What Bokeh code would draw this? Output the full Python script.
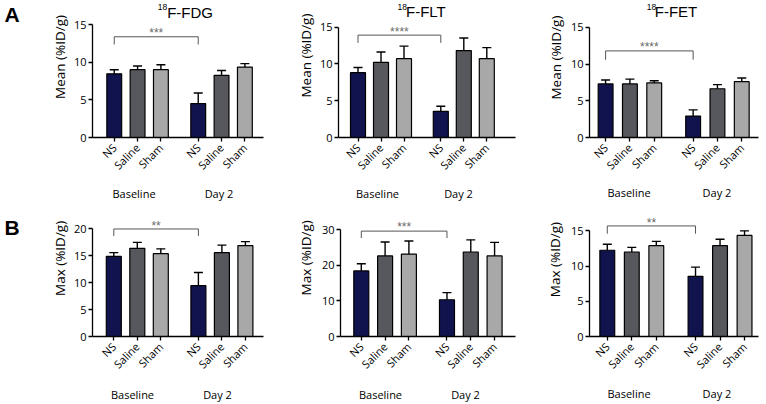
from math import pi
from bokeh.plotting import figure
from bokeh.layouts import row, column
from bokeh.models import FixedTicker, Label, Whisker, TeeHead, ColumnDataSource, Range1d, LinearAxis
from bokeh.embed import file_html
from bokeh.resources import INLINE

# ---------------- data ----------------
bar_labels = ["NS", "Saline", "Sham", "NS", "Saline", "Sham"]
bar_x = [0, 1, 2, 3.6, 4.6, 5.6]
period_labels = ["Baseline", "Day 2"]
bar_colors = ["#11134f", "#57585e", "#a8a8a8", "#11134f", "#57585e", "#a8a8a8"]

fdg_mean = [8.45, 9.0, 9.0, 4.5, 8.25, 9.35]
fdg_mean_sem = [0.55, 0.5, 0.65, 1.4, 0.65, 0.45]
flt_mean = [8.8, 10.2, 10.7, 3.55, 11.8, 10.7]
flt_mean_sem = [0.7, 1.4, 1.7, 0.7, 1.7, 1.5]
fet_mean = [7.3, 7.3, 7.43, 2.92, 6.64, 7.6]
fet_mean_sem = [0.53, 0.66, 0.31, 0.84, 0.56, 0.5]

fdg_max = [14.9, 16.4, 15.4, 9.45, 15.6, 16.9]
fdg_max_sem = [0.7, 1.1, 0.9, 2.45, 1.4, 0.75]
flt_max = [18.4, 22.6, 23.1, 10.3, 23.7, 22.6]
flt_max_sem = [2.0, 3.9, 3.7, 2.0, 3.4, 3.8]
fet_max = [12.25, 12.0, 12.9, 8.55, 12.9, 14.35]
fet_max_sem = [0.85, 0.65, 0.6, 1.3, 0.9, 0.65]

y_ticks_mean = [0, 5, 10, 15]
y_ticks_fdg_max = [0, 5, 10, 15, 20]
y_ticks_flt_max = [0, 10, 20, 30]
y_ticks_fet_max = [0, 5, 10, 15]

# significance brackets (NS baseline vs NS day 2)
sig_stars = ["***", "****", "****", "**", "***", "**"]
sig_bracket_y = [13.37, 13.9, 11.8, 20.0, 29.55, 15.7]
sig_tick_y = [12.35, 12.85, 10.6, 18.7, 27.6, 14.6]
sig_star_y = [13.84, 14.37, 12.35, 20.58, 30.6, 16.14]

tracer_mass = "18"
tracer_names = ["F-FDG", "F-FLT", "F-FET", None, None, None]
panel_letters = ["A", "B"]
y_titles = ["Mean (%ID/g)", "Max (%ID/g)"]

FONT = "Open Sans"
TFONT = "Liberation Sans"

# ---------------- layout (screen px in the 766x404 page) ----------------
panels = [
    dict(vals=fdg_mean, sem=fdg_mean_sem, ticks=y_ticks_mean,
         fl=70, w=194, ft=0, h=204, L=90, R=263, T=0, B=137, ytop_s=24.0,
         c0=112.0, s=23.6, grp_x=[132, 218], grp_so=5, title_x=(156, 165.5)),
    dict(vals=flt_mean, sem=flt_mean_sem, ticks=y_ticks_mean,
         fl=316, w=200, ft=0, h=204, L=338, R=515, T=0, B=138, ytop_s=26.7,
         c0=357.5, s=23.0, grp_x=[377, 458], grp_so=5, title_x=(397, 405.5)),
    dict(vals=fet_mean, sem=fet_mean_sem, ticks=y_ticks_mean,
         fl=567, w=199, ft=0, h=204, L=587, R=758, T=0, B=141, ytop_s=27.7,
         c0=603.3, s=24.6, grp_x=[627, 716], grp_so=4, title_x=(645, 653)),
    dict(vals=fdg_max, sem=fdg_max_sem, ticks=y_ticks_fdg_max,
         fl=70, w=194, ft=204, h=200, L=92, R=263, T=214, B=343, ytop_s=229.3,
         c0=113.3, s=23.5, grp_x=[132, 217], grp_so=7, title_x=None),
    dict(vals=flt_max, sem=flt_max_sem, ticks=y_ticks_flt_max,
         fl=316, w=200, ft=204, h=200, L=340, R=515, T=214, B=344, ytop_s=230.0,
         c0=360.8, s=23.8, grp_x=[380, 465], grp_so=7, title_x=None),
    dict(vals=fet_max, sem=fet_max_sem, ticks=y_ticks_fet_max,
         fl=567, w=199, ft=204, h=200, L=587, R=758, T=212, B=344, ytop_s=229.7,
         c0=605.0, s=24.8, grp_x=[627, 716], grp_so=6, title_x=None),
]


def strip(left, top, w, h, items):
    """Blank figure whose frame fills it, used to hold free text at page px positions."""
    f = figure(width=w, height=h, x_range=Range1d(0, w), y_range=Range1d(0, h),
               x_axis_type=None, y_axis_type=None, output_backend="svg", toolbar_location=None,
               title=None, min_border=0, min_border_left=0, min_border_right=0,
               min_border_top=0, min_border_bottom=0)
    f.outline_line_color = None
    f.background_fill_color = "white"
    f.border_fill_color = "white"
    for text, sx, sy, kw in items:
        f.add_layout(Label(x=sx - left, y=h - (sy - top), text=text, **kw))
    return f


ylab_kw = dict(angle=pi / 2, text_align="center", text_baseline="middle", text_font=FONT,
               text_font_size="13.5px", text_color="black")
letter_kw = dict(text_align="left", text_baseline="middle", text_font=TFONT,
                 text_font_style="bold", text_font_size="21px", text_color="black")
mass_kw = dict(text_align="left", text_baseline="middle", text_font=TFONT,
               text_font_size="8.5px", text_color="black")
name_kw = dict(text_align="left", text_baseline="middle", text_font=TFONT,
               text_font_size="15px", text_color="black")

figs = []
for i, sp in enumerate(panels):
    top_val = sp["ticks"][-1]
    ppu = (sp["B"] - sp["ytop_s"]) / top_val
    y_end = (sp["B"] - sp["T"]) / ppu
    x0 = (sp["L"] - sp["c0"]) / sp["s"]
    x1 = (sp["R"] - sp["c0"]) / sp["s"]

    def dx(px, sp=sp):
        return round((px - sp["c0"]) / sp["s"], 4)

    def dy(py, sp=sp, ppu=ppu):
        return (sp["B"] - py) / ppu

    p = figure(width=sp["w"], height=sp["h"], x_range=Range1d(x0, x1), y_range=Range1d(0, y_end),
               output_backend="svg", toolbar_location=None, title=None,
               min_border_left=sp["L"] - sp["fl"], min_border_right=sp["fl"] + sp["w"] - sp["R"],
               min_border_top=sp["T"] - sp["ft"], min_border_bottom=sp["ft"] + sp["h"] - sp["B"])
    p.outline_line_color = None
    p.xgrid.visible = False
    p.ygrid.visible = False
    p.background_fill_color = "white"
    p.border_fill_color = "white"

    src = ColumnDataSource(dict(x=bar_x, top=sp["vals"],
                                up=[v + e for v, e in zip(sp["vals"], sp["sem"])],
                                color=bar_colors))
    bw = 15.0 / sp["s"]
    w = Whisker(base="x", lower="top", upper="up", source=src, dimension="height",
                line_color="black", line_width=1.4, lower_head=None,
                upper_head=TeeHead(size=9, line_color="black", line_width=1.4))
    p.add_layout(w)
    p.vbar(x="x", top="top", bottom=0, width=bw, source=src, fill_color="color",
           line_color="black", line_width=1.2)

    xa = p.xaxis[0]
    xa.ticker = FixedTicker(ticks=bar_x)
    xa.major_label_overrides = {x: lab for x, lab in zip(bar_x, bar_labels)}
    xa.major_label_orientation = pi / 4
    xa.major_label_text_font = FONT
    xa.major_label_text_font_size = "11px"
    xa.major_label_text_color = "black"
    xa.minor_tick_line_color = None
    xa.major_tick_in = 0
    xa.major_tick_out = 4
    xa.axis_line_width = 1.3
    xa.major_tick_line_width = 1.3
    xa.major_label_standoff = 4

    gticks = [dx(g) for g in sp["grp_x"]]
    ga = LinearAxis(ticker=FixedTicker(ticks=gticks),
                    major_label_overrides={t: lab for t, lab in zip(gticks, period_labels)},
                    axis_line_color=None, major_tick_line_color=None, minor_tick_line_color=None,
                    major_tick_in=0, major_tick_out=0, major_label_standoff=sp["grp_so"],
                    major_label_text_font=FONT, major_label_text_font_size="11px",
                    major_label_text_color="black")
    p.add_layout(ga, "below")

    ya = p.yaxis[0]
    ya.ticker = FixedTicker(ticks=sp["ticks"])
    ya.bounds = (0, top_val)
    ya.major_label_text_font = FONT
    ya.major_label_text_font_size = "11px"
    ya.major_label_text_color = "black"
    ya.minor_tick_line_color = None
    ya.major_tick_in = 0
    ya.major_tick_out = 4
    ya.axis_line_width = 1.3
    ya.major_tick_line_width = 1.3
    ya.major_label_standoff = 2

    bx = [bar_x[0], bar_x[0], bar_x[3], bar_x[3]]
    by = [sig_tick_y[i], sig_bracket_y[i], sig_bracket_y[i], sig_tick_y[i]]
    p.line(bx, by, line_color="#555555", line_width=1)
    p.add_layout(Label(x=(bar_x[0] + bar_x[3]) / 2, y=sig_star_y[i], text=sig_stars[i],
                       text_align="center", text_baseline="middle", text_color="#6a6a6a",
                       text_font=TFONT, text_font_size="12px"))

    # tracer title (inside the frame, which reaches the top of the page)
    if sp["title_x"] is not None:
        p.add_layout(Label(x=dx(sp["title_x"][0]), y=dy(6.3), text=tracer_mass, **mass_kw))
        p.add_layout(Label(x=dx(sp["title_x"][1]), y=dy(11.5), text=tracer_names[i], **name_kw))
    figs.append(p)

# free-text strips (panel letters, y titles)
sA = strip(0, 0, 70, 204, [(panel_letters[0], 4, 21.5, letter_kw), (y_titles[0], 59, 84, ylab_kw)])
s2 = strip(264, 0, 52, 204, [(y_titles[0], 305, 82, ylab_kw)])
s3 = strip(516, 0, 51, 204, [(y_titles[0], 555, 85, ylab_kw)])
sB = strip(0, 204, 70, 200, [(panel_letters[1], 4, 224.5, letter_kw), (y_titles[1], 59, 276, ylab_kw)])
s5 = strip(264, 204, 52, 200, [(y_titles[1], 305, 275, ylab_kw)])
s6 = strip(516, 204, 51, 200, [(y_titles[1], 554, 278, ylab_kw)])

row_a = row(sA, figs[0], s2, figs[1], s3, figs[2])
row_b = row(sB, figs[3], s5, figs[4], s6, figs[5])
layout = column(row_a, row_b)
open("out.html", "w").write(file_html(layout, INLINE))
